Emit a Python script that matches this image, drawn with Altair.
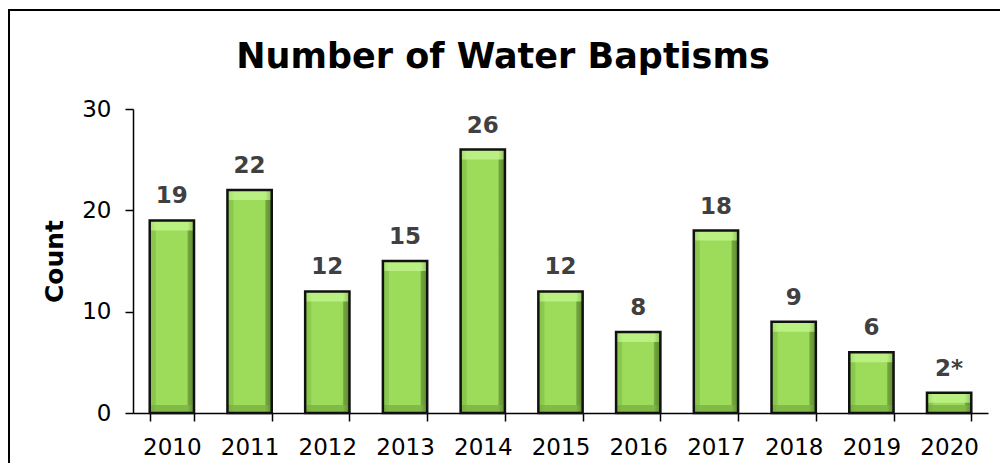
import altair as alt
import pandas as pd

years = ["2010", "2011", "2012", "2013", "2014", "2015", "2016", "2017", "2018", "2019", "2020"]
counts = [19, 22, 12, 15, 26, 12, 8, 18, 9, 6, 2]
labels = ["19", "22", "12", "15", "26", "12", "8", "18", "9", "6", "2*"]
title_text = "Number of Water Baptisms"

df = pd.DataFrame({"Year": years, "Count": counts, "Label": labels})

FONT = "DejaVu Sans"

def hgrad(stops):
    return alt.Gradient(
        gradient="linear",
        stops=[alt.GradientStop(offset=o, color=c) for o, c in stops],
        x1=0, x2=1, y1=0, y2=0,
    )

body_fill = hgrad([(0, "#86c24a"), (0.13, "#8ccb4e"), (0.15, "#9ddc5b"),
                   (0.84, "#9ddc5b"), (0.87, "#74a63e"), (1, "#5c8c2e")])
top_fill = hgrad([(0, "#a4dc6a"), (0.15, "#baf082"), (0.85, "#baf082"), (1, "#90c25a")])
bot_fill = hgrad([(0, "#76ae40"), (0.15, "#82ba48"), (0.85, "#82ba48"), (1, "#5e8e30")])

xenc = alt.X(
    "Year:N", sort=years,
    scale=alt.Scale(paddingInner=0.43, paddingOuter=0.215),
    axis=alt.Axis(title=None, labelAngle=0, tickBand="extent", tickSize=8,
                  labelPadding=15, labelFontSize=23, labelFont=FONT, labelColor="black",
                  domainColor="black", domainWidth=1.5, tickColor="black", tickWidth=1.5,
                  grid=False),
)
yscale = alt.Scale(domain=[0, 30])

base = alt.Chart(df).encode(x=xenc)

bars = base.mark_bar(fill=body_fill, strokeWidth=0).encode(
    y=alt.Y("Count:Q", scale=yscale,
            axis=alt.Axis(values=[0, 10, 20, 30], title="Count", grid=False,
                          tickSize=8, labelPadding=14, labelFontSize=23, labelFont=FONT,
                          labelColor="black", domainColor="black", domainWidth=1.5,
                          tickColor="black", tickWidth=1.5, titleFont=FONT,
                          titleFontSize=25, titleFontWeight="bold", titleColor="black",
                          titlePadding=14))
)
topcap = base.mark_bar(fill=top_fill, strokeWidth=0, y2Offset=10).encode(
    y=alt.Y("Count:Q", scale=yscale), y2="Count:Q"
)
botcap = base.mark_bar(fill=bot_fill, strokeWidth=0, yOffset=-8).encode(
    y=alt.datum(0, scale=yscale), y2=alt.Y2(datum=0)
)
outline = base.mark_bar(fillOpacity=0, stroke="#111111", strokeWidth=2.5).encode(
    y=alt.Y("Count:Q", scale=yscale)
)
text = base.mark_text(fontSize=23, fontWeight="bold", color="#404040", font=FONT,
                      baseline="alphabetic", dy=-17).encode(
    y=alt.Y("Count:Q", scale=yscale), text="Label:N"
)

single = alt.Chart(pd.DataFrame({"t": [title_text]}))
border = single.mark_rect(
    fillOpacity=0, stroke="black", strokeWidth=2
).encode(x=alt.value(-124), x2=alt.value(900), y=alt.value(-99), y2=alt.value(400))
title = single.mark_text(font=FONT, fontSize=35, fontWeight="bold", color="black",
                         align="center", baseline="alphabetic").encode(
    x=alt.value(370), y=alt.value(-41), text="t:N"
)

chart = alt.layer(border, bars, topcap, botcap, outline, text, title).properties(
    width=855, height=304,
    autosize=alt.AutoSizeParams(type="none"),
    padding={"left": 125, "top": 101, "right": 12, "bottom": 50},
    background="white",
).configure_view(strokeWidth=0)

chart.save("out.html", embed_options={"renderer": "svg", "actions": False})
